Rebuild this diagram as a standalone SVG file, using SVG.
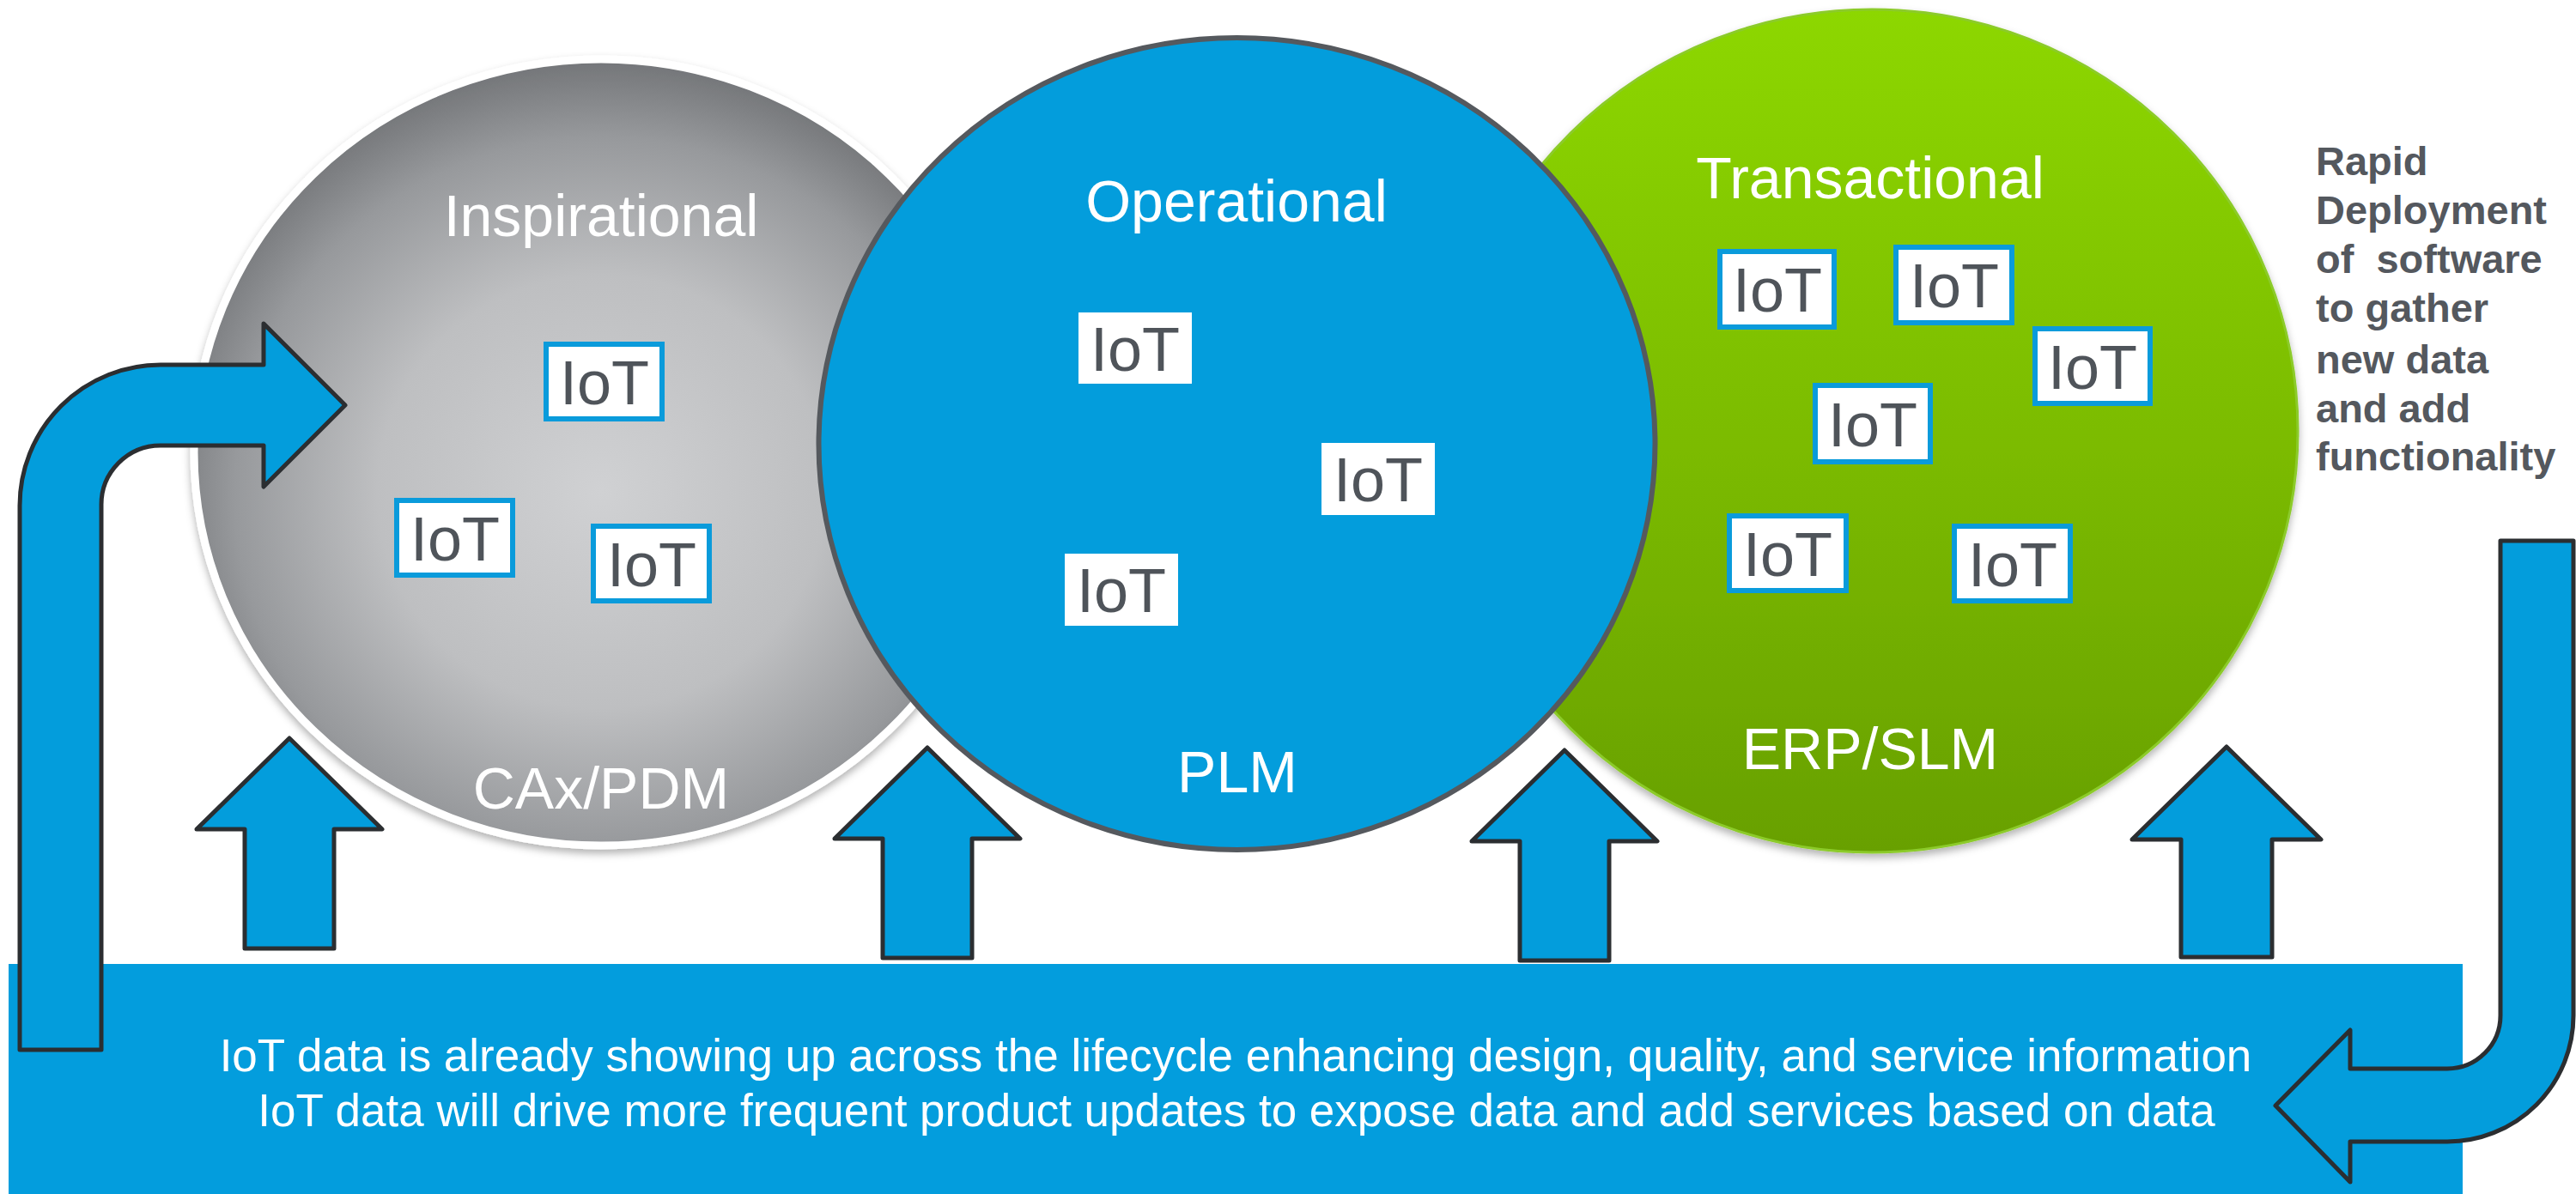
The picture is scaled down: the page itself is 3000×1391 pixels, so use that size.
<svg xmlns="http://www.w3.org/2000/svg" width="3000" height="1391" viewBox="0 0 3000 1391">
<defs>
<radialGradient id="grayGrad" cx="50%" cy="55%" r="55%">
<stop offset="0" stop-color="#D0D1D3"/>
<stop offset="0.5" stop-color="#BEBFC1"/>
<stop offset="0.82" stop-color="#97999C"/>
<stop offset="1" stop-color="#737578"/>
</radialGradient>
<linearGradient id="greenGrad" x1="0" y1="0" x2="0" y2="1">
<stop offset="0" stop-color="#8DD700"/>
<stop offset="0.5" stop-color="#7CBC00"/>
<stop offset="1" stop-color="#68A000"/>
</linearGradient>
<filter id="shadow" x="-10%" y="-10%" width="120%" height="125%">
<feDropShadow dx="0" dy="5" stdDeviation="5" flood-color="#000" flood-opacity="0.3"/>
</filter>
</defs>
<style>
.lbl{font-family:"Liberation Sans",Arial,sans-serif;font-size:68px;fill:#FFFFFF;text-anchor:middle}
.iot rect{fill:#FFFFFF}
.iot.b rect{stroke:#0A9BDB;stroke-width:6}
.iot text{font-family:"Liberation Sans",Arial,sans-serif;font-size:72px;fill:#4F545A;text-anchor:middle}
.arrow{fill:#039DDC;stroke:#2B2E31;stroke-width:5;stroke-linejoin:round}
.bottomtxt{font-family:"Liberation Sans",Arial,sans-serif;font-size:53px;fill:#FFFFFF;text-anchor:middle}
.rapid{font-family:"Liberation Sans",Arial,sans-serif;font-size:47px;font-weight:bold;fill:#54585E;white-space:pre}
</style>
<rect width="3000" height="1391" fill="#FFFFFF"/>

<g id="node-inspirational">
<ellipse cx="700" cy="527" rx="474" ry="458" fill="url(#grayGrad)" stroke="#FFFFFF" stroke-width="9" filter="url(#shadow)"/>
<text class="lbl" x="700" y="275">Inspirational</text>
<text class="lbl" x="700" y="942">CAx/PDM</text>
<g class="iot b"><rect x="636" y="401" width="135" height="87"/><text x="704" y="471">IoT</text></g>
<g class="iot b"><rect x="462" y="583" width="135" height="87"/><text x="530" y="653">IoT</text></g>
<g class="iot b"><rect x="691" y="613" width="135" height="87"/><text x="759" y="683">IoT</text></g>
</g>

<g id="node-transactional">
<ellipse cx="2180" cy="502" rx="496" ry="491" fill="url(#greenGrad)" stroke="#8CCB2A" stroke-width="3" filter="url(#shadow)"/>
<text class="lbl" x="2178" y="231">Transactional</text>
<text class="lbl" x="2178" y="896">ERP/SLM</text>
<g class="iot b"><rect x="2003" y="293" width="133" height="88"/><text x="2070" y="363">IoT</text></g>
<g class="iot b"><rect x="2208" y="288" width="135" height="88"/><text x="2276" y="358">IoT</text></g>
<g class="iot b"><rect x="2370" y="383" width="134" height="87"/><text x="2437" y="453">IoT</text></g>
<g class="iot b"><rect x="2114" y="449" width="134" height="89"/><text x="2181" y="520">IoT</text></g>
<g class="iot b"><rect x="2014" y="601" width="136" height="87"/><text x="2082" y="671">IoT</text></g>
<g class="iot b"><rect x="2276" y="613" width="135" height="87"/><text x="2344" y="683">IoT</text></g>
</g>

<g id="node-operational">
<ellipse cx="1440.5" cy="517" rx="487" ry="473" fill="#039DDC" stroke="#55595E" stroke-width="6"/>
<text class="lbl" x="1440" y="258">Operational</text>
<text class="lbl" x="1441" y="923">PLM</text>
<g class="iot"><rect x="1256" y="364" width="132" height="83"/><text x="1322" y="432">IoT</text></g>
<g class="iot"><rect x="1539" y="516" width="132" height="84"/><text x="1605" y="584">IoT</text></g>
<g class="iot"><rect x="1240" y="645" width="132" height="84"/><text x="1306" y="713">IoT</text></g>
</g>

<g id="node-bottom">
<rect x="10" y="1123" width="2858" height="268" fill="#039DDD"/>
<text class="bottomtxt" x="1439" y="1248">IoT data is already showing up across the lifecycle enhancing design, quality, and service information</text>
<text class="bottomtxt" x="1440" y="1312">IoT data will drive more frequent product updates to expose data and add services based on data</text>
</g>

<g id="node-rapid">
<text class="rapid" x="2697" y="204">Rapid</text>
<text class="rapid" x="2697" y="261">Deployment</text>
<text class="rapid" x="2697" y="318">of  software</text>
<text class="rapid" x="2697" y="375">to gather</text>
<text class="rapid" x="2697" y="435">new data</text>
<text class="rapid" x="2697" y="492">and add</text>
<text class="rapid" x="2697" y="548">functionality</text>
</g>

<g id="connectors">
<path class="arrow" d="M337,860 L445,966 H389 V1105 H285 V966 H229 Z"/>
<path class="arrow" d="M1080,871 L1188,977 H1132 V1116 H1028 V977 H972 Z"/>
<path class="arrow" d="M1822,874 L1930,980 H1874 V1119 H1770 V980 H1714 Z"/>
<path class="arrow" d="M2593,870 L2703,978 H2646 V1115 H2540 V978 H2483 Z"/>
<path class="arrow" d="M23,1223 V589 A164,164 0 0 1 187,425 H307 V377 L402,472 L307,567 V519 H187 A69,69 0 0 0 118,589 V1223 Z"/>
<path class="arrow" d="M2912,630 H2997 V1183 A147,147 0 0 1 2850,1330 H2737 V1377 L2650,1288 L2737,1200 V1245 H2850 A62,62 0 0 0 2912,1183 Z"/>
</g>
</svg>
